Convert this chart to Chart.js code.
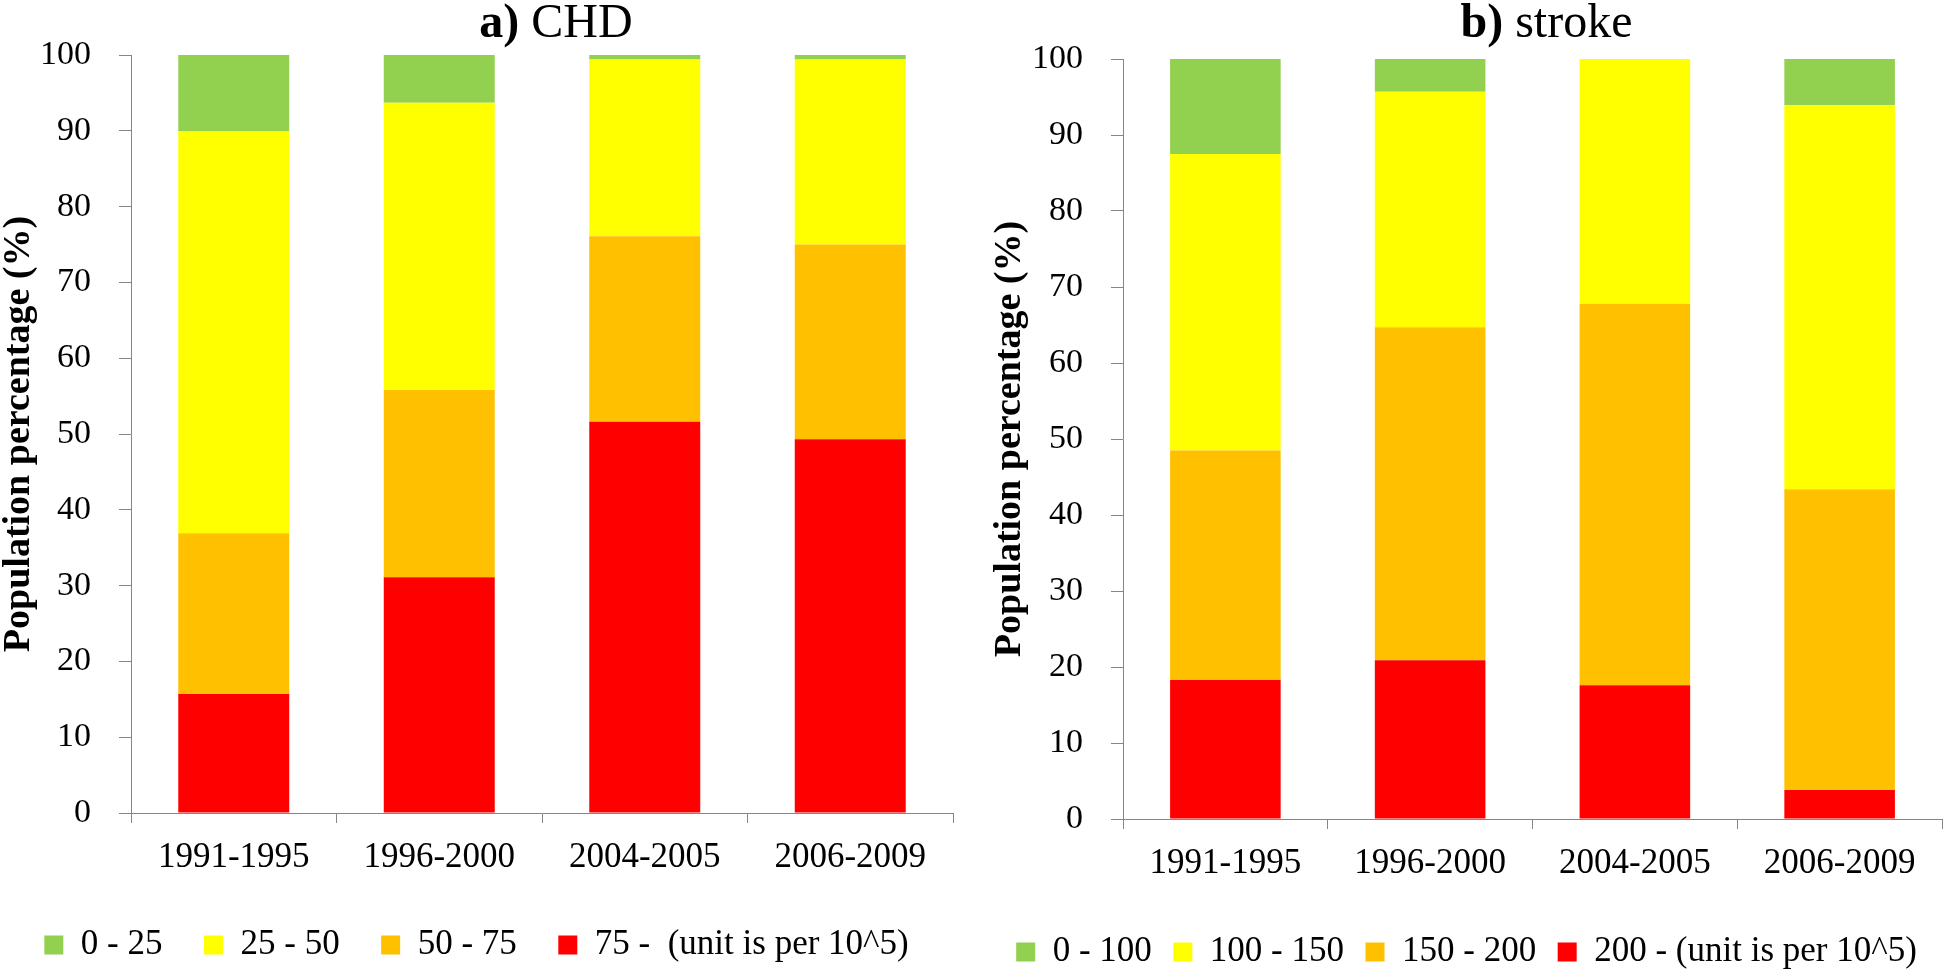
<!DOCTYPE html>
<html>
<head>
<meta charset="utf-8">
<title>CHD and stroke population percentage</title>
<script src="https://cdn.jsdelivr.net/npm/chart.js@4.4.1/dist/chart.umd.min.js"></script>
<style>
    html, body { margin: 0; padding: 0; background: #ffffff; overflow: hidden; }
    #leftPanel { position: absolute; left: 0; top: 0; width: 975px; height: 976px; }
    #rightPanel { position: absolute; left: 975px; top: 0; width: 971px; height: 984px; }
</style>
</head>
<body>
<div id="leftPanel"><canvas id="chdChart"></canvas></div>
<div id="rightPanel"><canvas id="strokeChart"></canvas></div>
<script>
// Categorias (periodos)
const periods = ["1991-1995", "1996-2000", "2004-2005", "2006-2009"];

// a) CHD - porcentaje de poblacion por banda de mortalidad
const chdLabels = ["0 - 25", "25 - 50", "50 - 75", "75 -  (unit is per 10^5)"];
const chdGreen = [10.1, 6.3, 0.6, 0.6];
const chdYellow = [53.0, 37.9, 23.3, 24.4];
const chdOrange = [21.2, 24.7, 24.5, 25.7];
const chdRed = [15.7, 31.1, 51.6, 49.3];

// b) stroke
const strokeLabels = ["0 - 100", "100 - 150", "150 - 200", "200 - (unit is per 10^5)"];
const strokeGreen = [12.5, 4.3, 0, 6.1];
const strokeYellow = [39.0, 31.0, 32.2, 50.5];
const strokeOrange = [30.2, 43.8, 50.2, 39.6];
const strokeRed = [18.3, 20.9, 17.6, 3.8];

const yAxisTitle = "Population percentage (%)";

const bandColors = ["#92D050", "#FFFF00", "#FFC000", "#FF0000"];
const axisGray = "#868686";
const serif = "'Liberation Serif', 'Times New Roman', serif";

Chart.defaults.font.family = serif;
Chart.defaults.color = "#000000";

// Titulo con "a)" en negrita y el resto normal
const panelTitle = {
    id: "panelTitle",
    afterDraw(chart, args, opts) {
        const ctx = chart.ctx;
        const area = chart.chartArea;
        const boldFont = "bold 48px " + serif;
        const plainFont = "48px " + serif;
        ctx.save();
        ctx.font = boldFont;
        const w1 = ctx.measureText(opts.label).width;
        ctx.font = plainFont;
        const w2 = ctx.measureText(" " + opts.text).width;
        const x = (area.left + area.right) / 2 + opts.shift - (w1 + w2) / 2;
        ctx.fillStyle = "#000000";
        ctx.textBaseline = "alphabetic";
        ctx.textAlign = "left";
        ctx.font = boldFont;
        ctx.fillText(opts.label, x, opts.baseline);
        ctx.font = plainFont;
        ctx.fillText(" " + opts.text, x + w1, opts.baseline);
        ctx.restore();
    }
};

function buildDatasets(labels, green, yellow, orange, red) {
    // rojo abajo, verde arriba; la leyenda se invierte
    const values = [red, orange, yellow, green];
    const names = [labels[3], labels[2], labels[1], labels[0]];
    const colors = [bandColors[3], bandColors[2], bandColors[1], bandColors[0]];
    return values.map((v, i) => ({
        label: names[i],
        data: v,
        backgroundColor: colors[i],
        borderWidth: 0,
        stack: "s",
        barPercentage: 0.54,
        categoryPercentage: 1.0,
    }));
}

function makeChart(canvasId, cfg) {
    const ctx = document.getElementById(canvasId).getContext("2d");
    return new Chart(ctx, {
        type: "bar",
        data: {
            labels: periods,
            datasets: buildDatasets(cfg.labels, cfg.green, cfg.yellow, cfg.orange, cfg.red),
        },
        options: {
            responsive: true,
            maintainAspectRatio: false,
            animation: false,
            layout: { padding: cfg.padding },
            plugins: {
                title: { display: false },
                tooltip: { enabled: false },
                legend: {
                    position: "bottom",
                    reverse: true,
                    labels: {
                        boxWidth: 19,
                        boxHeight: 19,
                        padding: cfg.legendPadding,
                        color: "#000000",
                        font: { size: 35 },
                    },
                },
                panelTitle: { label: cfg.titleLabel, text: cfg.titleText, shift: 14, baseline: 37 },
            },
            scales: {
                x: {
                    stacked: true,
                    offset: true,
                    grid: { display: true, drawOnChartArea: false, offset: true, tickLength: 10, color: axisGray },
                    border: { display: true, color: axisGray },
                    ticks: { font: { size: 35 }, padding: 14, color: "#000000", maxRotation: 0 },
                    afterFit(scale) { scale.height = cfg.xHeight; },
                },
                y: {
                    stacked: true,
                    min: 0,
                    max: 100,
                    grid: { display: true, drawOnChartArea: false, tickLength: 12, color: axisGray },
                    border: { display: true, color: axisGray },
                    ticks: { stepSize: 10, font: { size: 34 }, padding: 28, color: "#000000" },
                    title: {
                        display: true,
                        text: yAxisTitle,
                        color: "#000000",
                        font: { size: 38, weight: "bold", lineHeight: 1 },
                        padding: { top: 0, bottom: 0 },
                    },
                    afterFit(scale) { scale.width = cfg.yWidth; },
                },
            },
        },
        plugins: [panelTitle],
    });
}

document.addEventListener("DOMContentLoaded", function () {
    makeChart("chdChart", {
        labels: chdLabels,
        green: chdGreen, yellow: chdYellow, orange: chdOrange, red: chdRed,
        titleLabel: "a)", titleText: "CHD",
        padding: { top: 55, left: 0, right: 22, bottom: 3.5 },
        legendPadding: 41.5,
        xHeight: 73,
        yWidth: 131,
    });
    makeChart("strokeChart", {
        labels: strokeLabels,
        green: strokeGreen, yellow: strokeYellow, orange: strokeOrange, red: strokeRed,
        titleLabel: "b)", titleText: "stroke",
        padding: { top: 59, left: 16, right: 4, bottom: 4.5 },
        legendPadding: 21.5,
        xHeight: 94,
        yWidth: 132,
    });
});
</script>
</body>
</html>
